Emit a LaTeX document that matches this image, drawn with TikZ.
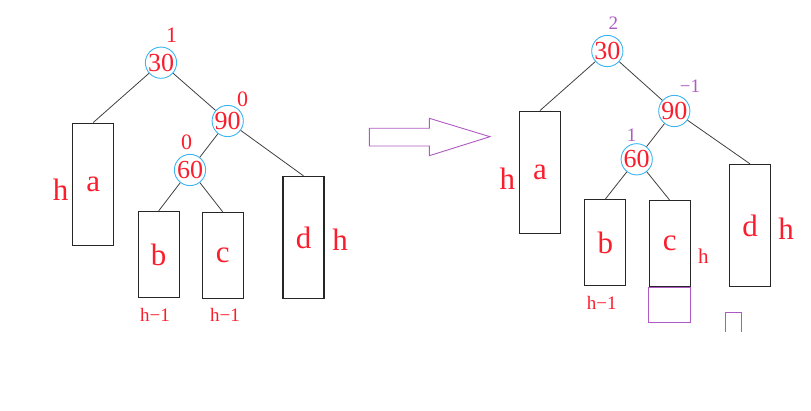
\documentclass[tikz,border=0pt]{standalone}
\usepackage{fontspec}
\setmainfont{Liberation Serif}
\definecolor{tred}{RGB}{250,30,45}
\definecolor{cblue}{RGB}{60,180,240}
\definecolor{tpurple}{RGB}{175,90,195}
\begin{document}
\begin{tikzpicture}[x=1pt,y=-1pt,
  circ/.style={circle,draw=cblue,line width=0.9pt,minimum size=31pt,inner sep=0pt,text=tred,font=\fontsize{26}{26}\selectfont},
  box/.style={draw=black!85,line width=1.3pt,inner sep=0pt,text=tred,font=\fontsize{31}{31}\selectfont},
  tall/.style={box,minimum width=41pt,minimum height=122pt},
  short/.style={box,minimum width=41pt,minimum height=86pt},
  edge/.style={draw=black!75,line width=0.8pt},
  lab/.style={text=tred,inner sep=0pt},
  bal/.style={lab,font=\fontsize{22}{22}\selectfont},
  pbal/.style={text=tpurple,inner sep=0pt,font=\fontsize{19}{19}\selectfont},
  bigh/.style={lab,font=\fontsize{31}{31}\selectfont},
  smallh/.style={lab,font=\fontsize{19}{19}\selectfont},
  pshape/.style={draw=tpurple,line width=1pt}
]
\useasboundingbox (0,0) rectangle (811,411);
% ---------- left tree ----------
\node[circ] (l30) at (161,62.7) {30};
\node[circ] (l90) at (227.7,121) {90};
\node[circ] (l60) at (190,170) {60};
\node[tall] (la) at (93.2,184.2) {\raisebox{-4pt}{a}};
\node[short] (lb) at (158.7,254.5) {\raisebox{-3pt}{b}};
\node[short] (lc) at (222.7,255.5) {\raisebox{-3pt}{c}};
\node[tall] (ld) at (303.5,237.5) {d};
\draw[edge] (l30) -- (la.north);
\draw[edge] (l30) -- (l90);
\draw[edge] (l90) -- (l60);
\draw[edge] (l90) -- (ld.north);
\draw[edge] (l60) -- (lb.north);
\draw[edge] (l60) -- (lc.north);
\node[bal] (lb30) at (171.7,35) {1};
\node[bal] (lb90) at (242.7,99.3) {0};
\node[bal] (lb60) at (186.7,142.7) {0};
\node[bigh] (lha) at (60.7,189.3) {h};
\node[bigh] (lhd) at (340,240) {h};
\node[smallh] (lhb) at (155,315) {h−1};
\node[smallh] (lhc) at (225,315) {h−1};
% ---------- arrow ----------
\draw[pshape,line width=0.9pt] (369.3,128.3) -- (429.3,128.3) -- (429.3,118.3) -- (490,136.7)
  -- (429.3,155.7) -- (429.3,146) -- (369.3,146) -- cycle;
% ---------- right tree ----------
\node[circ] (r30) at (607.3,51) {30};
\node[circ] (r90) at (674.3,111) {90};
\node[circ] (r60) at (636.7,159.3) {60};
\node[tall] (ra) at (540,172.2) {\raisebox{-4pt}{a}};
\node[short] (rb) at (605.3,242.8) {\raisebox{-3pt}{b}};
\node[short] (rc) at (669.7,243.8) {c};
\node[tall] (rd) at (750,225.5) {d};
\draw[edge] (r30) -- (ra.north);
\draw[edge] (r30) -- (r90);
\draw[edge] (r90) -- (r60);
\draw[edge] (r90) -- (rd.north);
\draw[edge] (r60) -- (rb.north);
\draw[edge] (r60) -- (rc.north);
\node[pbal] (rb30) at (613.3,23.3) {2};
\node[pbal] (rb90) at (690,86.7) {−1};
\node[pbal] (rb60) at (631.7,135) {1};
\node[bigh] (rha) at (507.3,178.3) {h};
\node[bigh] (rhd) at (786,228.3) {h};
\node[lab,font=\fontsize{21}{21}\selectfont] (rhc) at (703.3,256.7) {h};
\node[smallh] (rhb) at (601.7,303.3) {h−1};
\draw[pshape] (rc.south west) rectangle (690.2,322.3);
\draw[pshape] (725,331.7) -- (725,312.3) -- (741,312.3) -- (741,331.7);
\end{tikzpicture}
\end{document}
